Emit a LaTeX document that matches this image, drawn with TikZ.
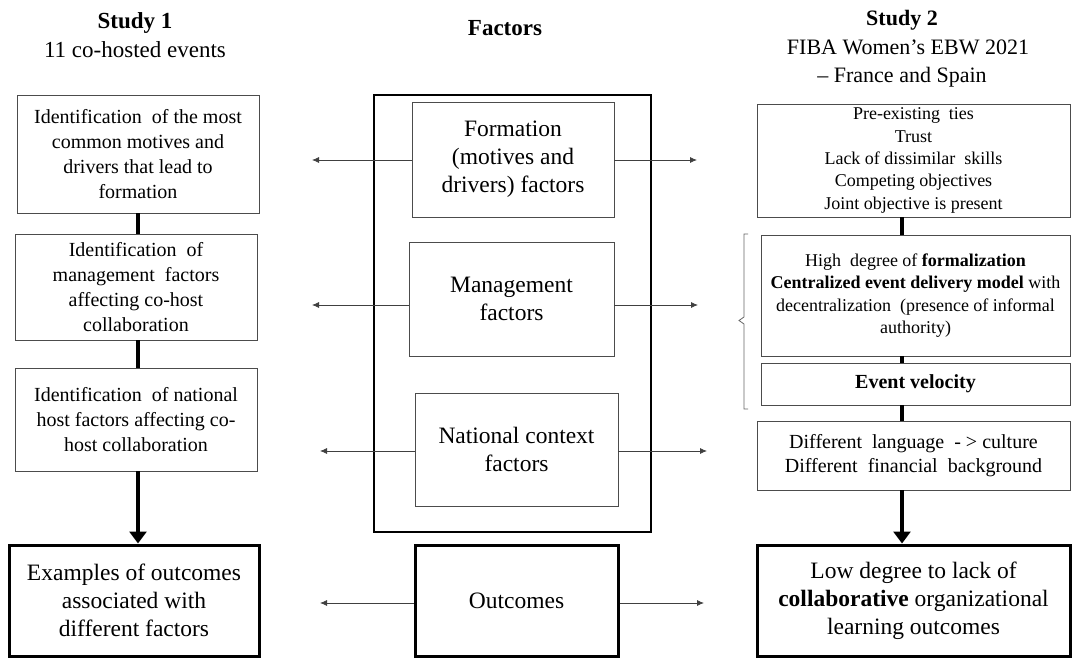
\documentclass[tikz,border=0pt]{standalone}
\usepackage{fontspec}
\setmainfont{Liberation Serif}
\usetikzlibrary{arrows.meta}
\begin{document}
\begin{tikzpicture}[x=1pt,y=-1pt,
  thinbox/.style={draw=black!70, line width=0.8pt, align=center, inner sep=2pt},
  heavybox/.style={draw=black, line width=3pt, align=center, inner sep=2pt, font=\fontsize{23.5}{28}\selectfont},
  fL/.style={font=\fontsize{20}{25}\selectfont},
  fC/.style={font=\fontsize{23.5}{28}\selectfont},
  fR/.style={font=\fontsize{18}{22.3}\selectfont},
  fRb/.style={font=\fontsize{20}{23.5}\selectfont},
  link/.style={line width=4pt, black},
  flow/.style={line width=4pt, black, -{Triangle[length=12pt,width=17pt]}},
  harrow/.style={draw=black!75, line width=0.8pt, -{Latex[length=7pt,width=6pt]}},
  title/.style={anchor=base, font=\fontsize{23}{29}\selectfont},
  title2/.style={anchor=base, font=\fontsize{22}{28}\selectfont}
]
\useasboundingbox (0,0) rectangle (1072,659);

% titles
\node[title] (t1a) at (135,28) {\textbf{Study 1}};
\node[title] (t1b) at (135,57) {11 co-hosted events};
\node[title] (tf) at (505,35) {\textbf{Factors}};
\node[title2] (t2a) at (902,25) {\textbf{Study 2}};
\node[title2] (t2b) at (908,54) {FIBA Women’s EBW 2021};
\node[title2] (t2c) at (902,82) {– France and Spain};

% left column
\node[thinbox, fL, minimum width=242pt, minimum height=118pt] (L1) at (138,154)
  {Identification\ \ of the most\\common motives and\\drivers that lead to\\formation};
\node[thinbox, fL, minimum width=242pt, minimum height=106pt] (L2) at (136,287)
  {Identification\ \ of\\management\ \ factors\\affecting co-host\\collaboration};
\node[thinbox, fL, minimum width=242pt, minimum height=103pt] (L3) at (136,419.5)
  {Identification\ \ of national\\host factors affecting co-\\host collaboration};
\node[heavybox, minimum width=250pt, minimum height=111pt] (LB) at (134,600.5)
  {Examples of outcomes\\associated with\\different factors};

% centre column
\node[draw=black, line width=2.5pt, minimum width=277pt, minimum height=437pt] (CF) at (512.5,313.5) {};
\node[thinbox, fC, minimum width=202pt, minimum height=115pt] (C1) at (513,159.5)
  {Formation\\(motives and\\drivers) factors};
\node[thinbox, fC, minimum width=205pt, minimum height=114pt] (C2) at (511.5,299)
  {Management\\factors};
\node[thinbox, fC, minimum width=203pt, minimum height=113pt] (C3) at (516.5,449.5)
  {National context\\factors};
\node[heavybox, minimum width=203pt, minimum height=111pt] (CB) at (516.5,600.5)
  {Outcomes};

% right column
\node[thinbox, fR, minimum width=313pt, minimum height=113pt] (R1) at (913.5,160.5)
  {Pre-existing\ \ ties\\Trust\\Lack of dissimilar\ \ skills\\Competing objectives\\Joint objective is present};
\node[thinbox, fR, minimum width=309pt, minimum height=121pt] (R2) at (915.5,295.5)
  {High\ \ degree of \textbf{formalization}\\\textbf{Centralized event delivery model} with\\decentralization\ \ (presence of informal\\authority)};
\node[thinbox, fRb, minimum width=309pt, minimum height=42pt] (R3) at (915.5,384)
  {\textbf{Event velocity}};
\node[thinbox, fRb, minimum width=313pt, minimum height=69pt] (R4) at (913.5,455.5)
  {Different\ \ language\ \ - > culture\\Different\ \ financial\ \ background};
\node[heavybox, minimum width=313pt, minimum height=111pt] (RB) at (913.5,600.5)
  {Low degree to lack of\\\textbf{collaborative} organizational\\learning outcomes};

% vertical connectors
\coordinate (lx) at (138,0);
\coordinate (rx) at (902,0);
\draw[link] (L1.south -| lx) -- (L2.north -| lx);
\draw[link] (L2.south -| lx) -- (L3.north -| lx);
\draw[flow] (L3.south -| lx) -- (LB.north -| lx);
\draw[link] (R1.south -| rx) -- (R2.north -| rx);
\draw[link] (R2.south -| rx) -- (R3.north -| rx);
\draw[link] (R3.south -| rx) -- (R4.north -| rx);
\draw[flow] (R4.south -| rx) -- (RB.north -| rx);

% horizontal arrows
\coordinate (a1l) at (312,160);
\coordinate (a1r) at (697,160);
\coordinate (a2l) at (312,305);
\coordinate (a2r) at (698,305);
\coordinate (a3l) at (320,451);
\coordinate (a3r) at (707,451);
\coordinate (a4l) at (320,603);
\coordinate (a4r) at (704,603);
\draw[harrow] (C1.west |- a1l) -- (a1l);
\draw[harrow] (C1.east |- a1r) -- (a1r);
\draw[harrow] (C2.west |- a2l) -- (a2l);
\draw[harrow] (C2.east |- a2r) -- (a2r);
\draw[harrow] (C3.west |- a3l) -- (a3l);
\draw[harrow] (C3.east |- a3r) -- (a3r);
\draw[harrow] (CB.west |- a4l) -- (a4l);
\draw[harrow] (CB.east |- a4r) -- (a4r);

% brace
\draw[black!60, line width=0.8pt] (748,234) -- (744,234) -- (744,317) -- (739,320.5) -- (744,324) -- (744,409) -- (748,409);
\end{tikzpicture}
\end{document}
